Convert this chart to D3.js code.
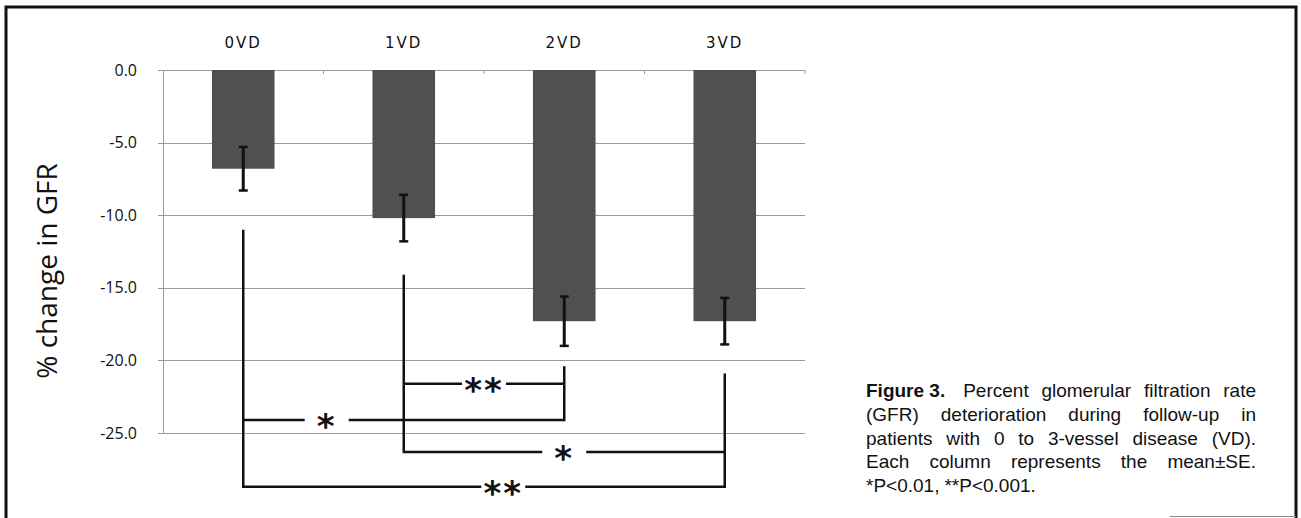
<!DOCTYPE html>
<html lang="en">
<head>
    <meta charset="UTF-8">
    <title>Percent change in GFR by vessel disease</title>
    <script src="https://cdnjs.cloudflare.com/ajax/libs/d3/7.8.5/d3.min.js"></script>
    <style>
        body {
            margin: 0;
            padding: 0;
            background-color: #fff;
        }
        .grid line {
            stroke: #9a9a9a;
            stroke-width: 1px;
        }
        .tick-label {
            font-family: "Open Sans", sans-serif;
            font-size: 16px;
            fill: #111;
        }
        .cat-label {
            font-family: "DejaVu Sans", sans-serif;
            font-size: 15px;
            fill: #111;
        }
        .y-title {
            font-family: "Open Sans", sans-serif;
            font-size: 28px;
            fill: #111;
        }
        .caption text {
            font-family: "Liberation Sans", Arial, sans-serif;
            font-size: 19px;
            fill: #111;
        }
        .star {
            font-family: "DejaVu Sans", sans-serif;
            font-weight: bold;
            font-size: 34px;
            fill: #111;
        }
    </style>
</head>
<body>
    <div id="chart"></div>
    <script>
        // data
        const categories = ["0VD", "1VD", "2VD", "3VD"];
        const means = [-6.8, -10.2, -17.3, -17.3];
        const errors = [1.5, 1.6, 1.7, 1.6];
        const yTicks = [0, -5, -10, -15, -20, -25];

        // significance brackets (value units on the y scale)
        const stemTops = [-11.0, -14.1, -20.4, -20.9];
        const bracketFrom = [1, 0, 1, 0];
        const bracketTo = [2, 2, 3, 3];
        const bracketLevel = [-21.6, -24.1, -26.3, -28.7];
        const bracketStars = ["**", "*", "*", "**"];
        const bracketLabelAt = [0.5, 0.26, 0.5, 0.54];

        const captionLines = [
            "Percent glomerular filtration rate",
            "(GFR) deterioration during follow-up in",
            "patients with 0 to 3-vessel disease (VD).",
            "Each column represents the mean±SE.",
            "*P<0.01, **P<0.001."
        ];

        const W = 1301, H = 518;
        const svg = d3.select("#chart").append("svg")
            .attr("width", W)
            .attr("height", H);

        // frame
        svg.append("path")
            .attr("d", "M6,518 L6,7 L1296,7 L1296,518")
            .attr("fill", "none")
            .attr("stroke", "#111")
            .attr("stroke-width", 3);
        svg.append("line")
            .attr("x1", 1170).attr("x2", 1296)
            .attr("y1", 516.5).attr("y2", 516.5)
            .attr("stroke", "#888");

        const x = d3.scaleBand()
            .domain(categories)
            .range([163, 805])
            .paddingInner(0.61)
            .paddingOuter(0.305);

        const y = d3.scaleLinear()
            .domain([0, -25])
            .range([70, 433]);

        const cx = i => x(categories[i]) + x.bandwidth() / 2;

        // gridlines + left ticks
        const grid = svg.append("g").attr("class", "grid");
        grid.selectAll("line")
            .data(yTicks)
            .enter().append("line")
            .attr("x1", 158)
            .attr("x2", 805)
            .attr("y1", d => Math.round(y(d)) + 0.5)
            .attr("y2", d => Math.round(y(d)) + 0.5);

        svg.append("line")
            .attr("x1", 163.5).attr("x2", 163.5)
            .attr("y1", y(0)).attr("y2", y(-25))
            .attr("stroke", "#9a9a9a");

        // category boundary ticks on the zero line
        const step = x.step();
        svg.selectAll(".xtick")
            .data(d3.range(1, categories.length + 1))
            .enter().append("line")
            .attr("class", "xtick")
            .attr("x1", i => 163 + step * i)
            .attr("x2", i => 163 + step * i)
            .attr("y1", y(0))
            .attr("y2", y(0) + 4)
            .attr("stroke", "#9a9a9a");

        svg.selectAll(".tick-label")
            .data(yTicks)
            .enter().append("text")
            .attr("class", "tick-label")
            .attr("x", 137)
            .attr("y", d => y(d))
            .attr("dy", "0.35em")
            .attr("text-anchor", "end")
            .text(d => d.toFixed(1));

        svg.selectAll(".cat-label")
            .data(categories)
            .enter().append("text")
            .attr("class", "cat-label")
            .attr("x", d => x(d) + x.bandwidth() / 2)
            .attr("y", 48)
            .attr("text-anchor", "middle")
            .attr("letter-spacing", 2)
            .text(d => d);

        svg.append("text")
            .attr("class", "y-title")
            .attr("transform", "translate(57,271) rotate(-90)")
            .attr("text-anchor", "middle")
            .text("% change in GFR");

        // bars
        svg.selectAll(".bar")
            .data(means)
            .enter().append("rect")
            .attr("class", "bar")
            .attr("x", (d, i) => x(categories[i]))
            .attr("width", x.bandwidth())
            .attr("y", y(0))
            .attr("height", d => y(d) - y(0))
            .attr("fill", "#505050");

        // error bars
        const eb = svg.append("g")
            .attr("stroke", "#111")
            .attr("fill", "none");
        means.forEach((m, i) => {
            const c = cx(i);
            eb.append("line")
                .attr("x1", c).attr("x2", c)
                .attr("y1", y(m + errors[i])).attr("y2", y(m - errors[i]))
                .attr("stroke-width", 3);
            [m + errors[i], m - errors[i]].forEach(v => {
                eb.append("line")
                    .attr("x1", c - 4.5).attr("x2", c + 4.5)
                    .attr("y1", y(v)).attr("y2", y(v))
                    .attr("stroke-width", 2.5);
            });
        });

        // brackets
        const br = svg.append("g")
            .attr("stroke", "#111")
            .attr("stroke-width", 2.5)
            .attr("fill", "none");

        categories.forEach((c, i) => {
            const levels = bracketLevel.filter((l, k) => bracketFrom[k] === i || bracketTo[k] === i);
            br.append("line")
                .attr("x1", cx(i)).attr("x2", cx(i))
                .attr("y1", y(stemTops[i]))
                .attr("y2", y(d3.min(levels)) + 1.25);
        });

        const gapHalf = 22;
        bracketLevel.forEach((lv, k) => {
            const x0 = cx(bracketFrom[k]);
            const x1 = cx(bracketTo[k]);
            const xm = x0 + (x1 - x0) * bracketLabelAt[k];
            const yy = y(lv);
            br.append("line")
                .attr("x1", x0).attr("x2", xm - gapHalf)
                .attr("y1", yy).attr("y2", yy);
            br.append("line")
                .attr("x1", xm + gapHalf).attr("x2", x1)
                .attr("y1", yy).attr("y2", yy);
            svg.append("text")
                .attr("class", "star")
                .attr("x", xm)
                .attr("y", yy + 18)
                .attr("text-anchor", "middle")
                .attr("letter-spacing", 2)
                .text(bracketStars[k]);
        });

        // caption, justified between left and right edges
        const capLeft = 866, capRight = 1256, capTop = 397, capLead = 23.75;
        const cap = svg.append("g").attr("class", "caption");

        const fig = cap.append("text")
            .attr("x", capLeft)
            .attr("y", capTop)
            .style("font-weight", "bold")
            .text("Figure 3.");
        const firstStart = capLeft + fig.node().getComputedTextLength() + 18;

        captionLines.forEach((line, li) => {
            const yy = capTop + li * capLead;
            const start = li === 0 ? firstStart : capLeft;
            const words = line.split(" ");
            const nodes = words.map(w => cap.append("text").attr("y", yy).text(w));
            const widths = nodes.map(n => n.node().getComputedTextLength());
            const last = li === captionLines.length - 1;
            const gap = last ? 5 : (capRight - start - d3.sum(widths)) / (words.length - 1);
            let xx = start;
            nodes.forEach((n, k) => {
                n.attr("x", xx);
                xx += widths[k] + gap;
            });
        });
    </script>
</body>
</html>
